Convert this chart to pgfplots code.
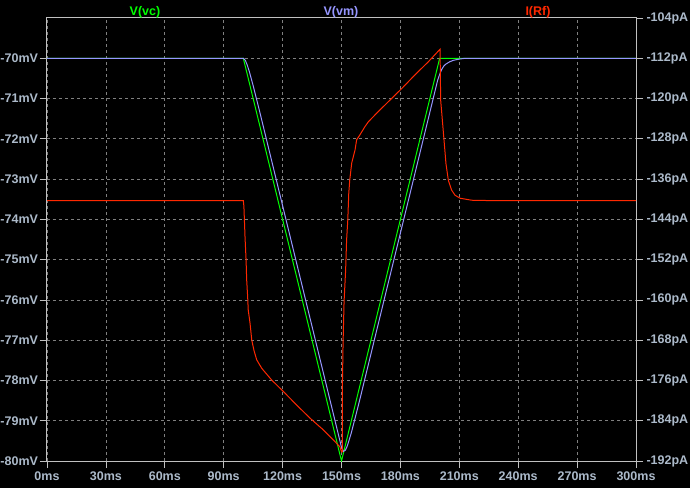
\documentclass[border=0pt]{standalone}
\usepackage{fontspec}
\setmainfont{Liberation Sans}
\usepackage{pgfplots}
\pgfplotsset{compat=1.18}

\definecolor{boxc}{RGB}{192,192,192}
\definecolor{gridc}{RGB}{128,128,128}
\definecolor{lbl}{RGB}{172,186,202}
\definecolor{vc}{RGB}{0,255,0}
\definecolor{vm}{RGB}{150,150,255}
\definecolor{irf}{RGB}{255,40,0}

\newcommand{\lf}{\fontsize{12.5}{12.5}\selectfont\bfseries}

\pgfplotsset{
  lt/.style={scale only axis, width=589pt, height=443pt,
    at={(47pt,27pt)}, anchor=south west,
    xmin=0, xmax=300,
    axis line style={boxc, line width=1pt},
    ticklabel style={font=\lf, text=lbl},
    tick align=outside,
    tick style={boxc, line width=0.8pt},
    major tick length=7pt,
  }
}

\begin{document}
\begin{tikzpicture}
\fill[black] (0,0) rectangle (690pt,488pt);
\useasboundingbox (0,0) rectangle (690pt,488pt);

% left axis: voltages
\begin{axis}[lt,
  ymin=-80, ymax=-69,
  ytick={-80,-79,-78,-77,-76,-75,-74,-73,-72,-71,-70},
  yticklabels={-80mV,-79mV,-78mV,-77mV,-76mV,-75mV,-74mV,-73mV,-72mV,-71mV,-70mV},
  xtick={0,30,60,90,120,150,180,210,240,270,300},
  xticklabels={0ms,30ms,60ms,90ms,120ms,150ms,180ms,210ms,240ms,270ms,300ms},
  yticklabel style={xshift=1.5pt},
  ytick pos=left, xtick pos=bottom,
  grid=major,
  major grid style={gridc, dash pattern=on 3pt off 3pt, line width=0.8pt},
]
\addplot[vc, line width=1pt] coordinates {
  (0,-70) (100,-70) (150,-80) (200,-70) (300,-70)};
\addplot[vm, line width=1pt] coordinates {
  (0,-70) (100,-70) (101,-70.05) (102,-70.17) (103,-70.32) (105,-70.68)
  (108,-71.26) (110,-71.66) (150,-79.66) (151,-79.76) (152,-79.73)
  (153,-79.62) (155,-79.30) (158,-78.73) (160,-78.34) (199,-70.54)
  (200,-70.40) (201,-70.28) (202,-70.20) (203,-70.15) (205,-70.09)
  (207,-70.05) (210,-70.02) (213,-70) (300,-70)};
\end{axis}

% right axis: current
\begin{axis}[lt,
  hide x axis,
  axis y line*=right,
  ymin=-192, ymax=-104,
  ytick={-192,-184,-176,-168,-160,-152,-144,-136,-128,-120,-112,-104},
  yticklabels={-192pA,-184pA,-176pA,-168pA,-160pA,-152pA,-144pA,-136pA,-128pA,-120pA,-112pA,-104pA},
]
\addplot[irf, line width=1pt] coordinates {
  (0,-140.3) (100.0,-140.3) (100.3,-141.5) (100.85,-147.4) (101.4,-152.1)
  (101.7,-156.0) (102.2,-159.4) (102.5,-162.0) (103.4,-164.6) (104.3,-168.0)
  (105.4,-170.0) (106.8,-171.9) (109.4,-173.6) (114.4,-175.9) (120.4,-178.2)
  (127.2,-180.9) (134.0,-183.5) (140.7,-185.8) (145.8,-187.8) (149.2,-189.2)
  (150.0,-190.2) (150.4,-190.2) (150.5,-175.9) (150.8,-168.6) (151.3,-160.4)
  (152.1,-154.1) (152.6,-148.1) (153.2,-144.1) (153.7,-138.8) (154.2,-136.2)
  (155.2,-132.8) (156.9,-130.2) (157.7,-128.2) (159.4,-127.2) (161.9,-125.6)
  (163.7,-124.6) (168.7,-122.6) (174.7,-120.3) (180.7,-118.0) (187.4,-115.3)
  (194.2,-112.7) (200.2,-110.2) (200.5,-120.3) (201.5,-124.9) (202.2,-128.2)
  (203.2,-132.9) (204.4,-136.2) (206.1,-138.2) (207.8,-139.2) (210.4,-139.8)
  (216.3,-140.2) (230,-140.3) (300,-140.3)};
\end{axis}

\node[text=vc, font=\lf] at (145pt,476pt) {V(vc)};
\node[text=vm, font=\lf] at (341pt,476pt) {V(vm)};
\node[text=irf, font=\lf] at (538pt,476pt) {I(Rf)};
\end{tikzpicture}
\end{document}
